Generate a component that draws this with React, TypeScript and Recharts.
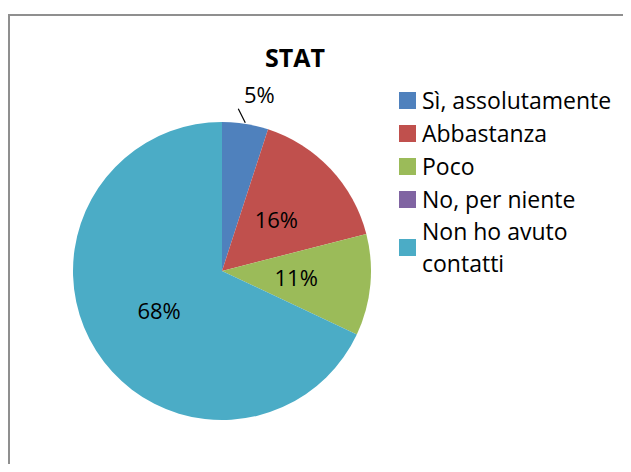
import { Cell, Pie, PieChart } from "recharts";

const categories = [
  "Sì, assolutamente",
  "Abbastanza",
  "Poco",
  "No, per niente",
  "Non ho avuto contatti",
];
const legendLines = [
  ["Sì, assolutamente"],
  ["Abbastanza"],
  ["Poco"],
  ["No, per niente"],
  ["Non ho avuto", "contatti"],
];
const values = [5, 16, 11, 0, 68];
const COLORS = ["#4F81BD", "#C0504D", "#9BBB59", "#8064A2", "#4BACC6"];

const FONT = '"Open Sans", sans-serif';
const RAD = Math.PI / 180;

const data = categories.map((name, i) => ({ name, value: values[i] }));

function renderLabel(props: any) {
  const { cx, cy, midAngle, outerRadius, index, percent } = props;
  if (!values[index]) return null;
  const text = `${Math.round(percent * 100)}%`;
  const cos = Math.cos(-midAngle * RAD);
  const sin = Math.sin(-midAngle * RAD);
  if (percent < 0.08) {
    // small slice: label sits outside with a short leader line
    const ex = cx + outerRadius * cos;
    const ey = cy + outerRadius * sin;
    return (
      <g key={`lbl-${index}`}>
        <line x1={ex} y1={ey - 1} x2={ex - 7} y2={ey - 15} stroke="#000" strokeWidth={1.2} />
        <text
          x={ex + 14}
          y={ey - 29}
          dy="0.36em"
          textAnchor="middle"
          fill="#000"
          fontSize={22}
          fontFamily={FONT}
        >
          {text}
        </text>
      </g>
    );
  }
  const r = outerRadius * 0.5;
  return (
    <text
      key={`lbl-${index}`}
      x={cx + r * cos}
      y={cy + r * sin}
      dy="0.36em"
      textAnchor="middle"
      fill="#000"
      fontSize={22}
      fontFamily={FONT}
    >
      {text}
    </text>
  );
}

export default function App() {
  return (
    <div
      style={{
        position: "relative",
        width: 631,
        height: 472,
        margin: -8,
        overflow: "hidden",
        background: "#fff",
        fontFamily: FONT,
      }}
    >
      <div
        style={{
          position: "absolute",
          left: 7,
          top: 14,
          width: 700,
          height: 500,
          borderLeft: "3px solid #8f8f8f",
          borderTop: "2px solid #8f8f8f",
        }}
      />
      <div
        style={{
          position: "absolute",
          left: 195,
          top: 40,
          width: 200,
          textAlign: "center",
          fontSize: 25,
          lineHeight: "34px",
          fontWeight: 700,
          color: "#000",
        }}
      >
        STAT
      </div>
      <PieChart
        width={631}
        height={472}
        margin={{ top: 0, right: 0, bottom: 0, left: 0 }}
        style={{ position: "absolute", left: 0, top: 0 }}
      >
        <Pie
          data={data}
          dataKey="value"
          nameKey="name"
          cx={222}
          cy={271}
          outerRadius={149}
          startAngle={90}
          endAngle={-270}
          stroke="none"
          label={renderLabel}
          labelLine={false}
          isAnimationActive={false}
        >
          {data.map((_, i) => (
            <Cell key={i} fill={COLORS[i]} />
          ))}
        </Pie>
      </PieChart>
      <div style={{ position: "absolute", left: 399, top: 84 }}>
        {legendLines.map((lines, i) => (
          <div key={i} style={{ display: "flex", alignItems: "center" }}>
            <div style={{ width: 17, height: 17, background: COLORS[i], marginRight: 6 }} />
            <div
              style={{
                fontSize: 23,
                lineHeight: lines.length > 1 ? "31.5px" : "33px",
                color: "#000",
                whiteSpace: "nowrap",
              }}
            >
              {lines.map((l, j) => (
                <div key={j}>{l}</div>
              ))}
            </div>
          </div>
        ))}
      </div>
    </div>
  );
}
